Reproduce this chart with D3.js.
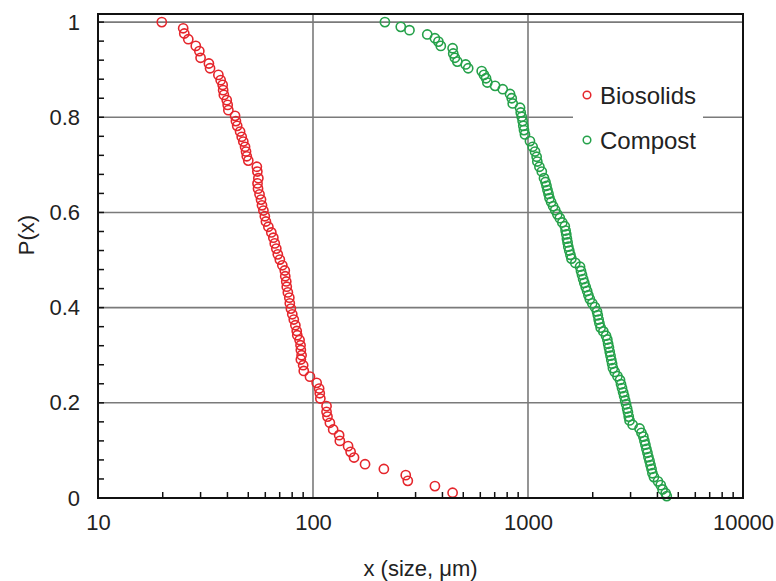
<!DOCTYPE html>
<html>
<head>
<meta charset="utf-8">
<script src="https://cdn.jsdelivr.net/npm/d3@7"></script>
<style>
	body { margin: 0; background: #fff; }
	text { font-family: "Liberation Sans", Arial, sans-serif; fill: #222; }
</style>
</head>
<body>
<div id="chart_container"></div>
<script>
// values (size in um, exceedance probability)
var biosolidsSize = [19.8, 24.9, 25.2, 26.3, 28.5, 29.6, 30.0, 32.8, 33.2, 36.3,
	37.2, 38.0, 38.2, 38.5, 39.7, 40.1, 40.4, 43.4, 43.8, 44.4,
	45.8, 46.6, 47.4, 48.3, 48.8, 49.2, 50.0, 54.8, 55.1, 55.7,
	55.2, 55.5, 56.4, 57.3, 57.9, 58.8, 59.7, 60.4, 62.0, 64.0,
	65.4, 66.4, 67.5, 68.6, 70.1, 72.0, 73.9, 74.3, 75.1, 75.5,
	76.4, 77.6, 78.0, 78.9, 80.1, 81.4, 82.8,
	84.0, 84.5, 86.6, 87.5, 87.8, 88.5, 87.8, 90.0, 90.6, 96.8,
	104, 106.8, 107.5, 108.2, 115.6, 115.6, 116.8, 119.8, 124.1, 132.3,
	133.3, 145.6, 149.6, 155.2, 174.6, 213.6, 270, 276, 369, 446];
var biosolidsP = [1.000, 0.987, 0.976, 0.964, 0.950, 0.939, 0.925, 0.913, 0.903, 0.889,
	0.878, 0.868, 0.857, 0.847, 0.836, 0.826, 0.815, 0.803, 0.792, 0.782,
	0.770, 0.759, 0.749, 0.738, 0.728, 0.718, 0.709, 0.696, 0.686, 0.672,
	0.661, 0.650, 0.638, 0.627, 0.615, 0.604, 0.592, 0.581, 0.570, 0.558,
	0.547, 0.535, 0.524, 0.512, 0.501, 0.489, 0.478, 0.466, 0.455, 0.444,
	0.432, 0.421, 0.409, 0.398, 0.386, 0.375, 0.363,
	0.351, 0.342, 0.332, 0.321, 0.311, 0.300, 0.291, 0.279, 0.267, 0.255,
	0.242, 0.230, 0.220, 0.209, 0.193, 0.181, 0.171, 0.158, 0.144, 0.132,
	0.120, 0.109, 0.097, 0.085, 0.071, 0.061, 0.048, 0.036, 0.025, 0.011];

var compostSize = [216, 256, 281, 340, 369, 383, 393, 446, 449, 457,
	469, 513, 527, 609, 624, 638, 647, 703, 763, 825,
	840, 849, 918, 925, 935, 944, 951, 958, 968, 1021,
	1051, 1078, 1097, 1105, 1130, 1159, 1187,
	1206, 1219, 1232, 1246, 1259, 1281, 1309, 1338, 1369, 1406,
	1444, 1483, 1496, 1507, 1517, 1528, 1540, 1556, 1575, 1592,
	1660, 1746, 1764, 1783, 1805, 1828, 1856, 1884, 1910, 1939,
	1990, 2048, 2094, 2112, 2131, 2149, 2177, 2241, 2306, 2339,
	2359, 2379, 2400, 2420, 2441, 2462, 2483, 2532, 2606, 2679,
	2708, 2737, 2770, 2800, 2830, 2860, 2891, 2916, 2941, 2967,
	3067, 3302, 3370, 3439, 3480, 3517, 3555, 3594, 3632, 3675,
	3715, 3755, 3791, 3853, 4021, 4144, 4225, 4367, 4419];
var compostP = [1.000, 0.990, 0.983, 0.974, 0.966, 0.959, 0.950, 0.945, 0.934, 0.925,
	0.917, 0.911, 0.903, 0.897, 0.889, 0.882, 0.873, 0.866, 0.859, 0.849,
	0.840, 0.829, 0.820, 0.810, 0.801, 0.792, 0.782, 0.773, 0.764, 0.750,
	0.738, 0.728, 0.717, 0.707, 0.696, 0.686, 0.672,
	0.664, 0.656, 0.647, 0.639, 0.630, 0.622, 0.613, 0.605, 0.596, 0.588,
	0.579, 0.571, 0.562, 0.554, 0.545, 0.537, 0.528, 0.520, 0.511, 0.503,
	0.494, 0.486, 0.477, 0.469, 0.460, 0.452, 0.443, 0.435, 0.426, 0.418,
	0.409, 0.401, 0.392, 0.384, 0.375, 0.367, 0.358, 0.350, 0.341, 0.333,
	0.324, 0.316, 0.307, 0.299, 0.290, 0.282, 0.273, 0.265, 0.256, 0.248,
	0.239, 0.231, 0.222, 0.214, 0.205, 0.197, 0.188, 0.180, 0.171, 0.163,
	0.154, 0.146, 0.137, 0.129, 0.120, 0.112, 0.103, 0.095, 0.086, 0.078,
	0.069, 0.061, 0.052, 0.044, 0.035, 0.027, 0.018, 0.010, 0.004];

var seriesNames = ["Biosolids", "Compost"];
var seriesColors = ["#e5262c", "#25a14a"];
var xTickValues = [10, 100, 1000, 10000];
var yTickValues = [0, 0.2, 0.4, 0.6, 0.8, 1];

var width = 776, height = 581;
var left = 98, right = 743, top_y = 14, bottom = 498;
var grid_color = "#7a7a7a";
var label_size = 22;

var svgContainer = d3.select("#chart_container").append("svg")
	.attr("width", width)
	.attr("height", height);

var x = d3.scaleLog().domain([10, 10000]).range([left, right]);
// frame goes a little above P=1
var y = d3.scaleLinear().domain([0, 1.017]).range([bottom, top_y]);

function drawGrid(){
	svgContainer.append("g").selectAll("line")
		.data([100, 1000])
		.enter().append("line")
		.attr("x1", function(d){ return x(d); })
		.attr("x2", function(d){ return x(d); })
		.attr("y1", top_y).attr("y2", bottom)
		.attr("stroke", grid_color).attr("stroke-width", 1.6);

	svgContainer.append("g").selectAll("line")
		.data([0.2, 0.4, 0.6, 0.8, 1])
		.enter().append("line")
		.attr("x1", left).attr("x2", right)
		.attr("y1", function(d){ return y(d); })
		.attr("y2", function(d){ return y(d); })
		.attr("stroke", grid_color).attr("stroke-width", 1.6);
}

function drawAxes(){
	// minor ticks point into the plot
	var yMinor = d3.range(0, 1.001, 0.04);
	svgContainer.append("g").selectAll("line")
		.data(yMinor)
		.enter().append("line")
		.attr("x1", left).attr("x2", left + 6)
		.attr("y1", function(d){ return y(d); })
		.attr("y2", function(d){ return y(d); })
		.attr("stroke", "#111").attr("stroke-width", 1.5);

	var xMinor = [];
	[10, 100, 1000].forEach(function(dec){
		for(var k = 2; k < 10; k++){ xMinor.push(dec*k); }
	});
	svgContainer.append("g").selectAll("line")
		.data(xMinor)
		.enter().append("line")
		.attr("x1", function(d){ return x(d); })
		.attr("x2", function(d){ return x(d); })
		.attr("y1", bottom).attr("y2", bottom - 6)
		.attr("stroke", "#111").attr("stroke-width", 1.5);

	var xAxis = d3.axisBottom(x).tickValues(xTickValues)
		.tickFormat(d3.format("d")).tickSize(0).tickPadding(16);
	var gx = svgContainer.append("g")
		.attr("transform", "translate(0," + bottom + ")")
		.call(xAxis);
	gx.select(".domain").remove();
	gx.selectAll("text").attr("font-size", label_size).attr("fill", "#222")
		.attr("font-family", "Liberation Sans, Arial, sans-serif");

	var yAxis = d3.axisLeft(y).tickValues(yTickValues)
		.tickFormat(function(d){ return d3.format("")(d); }).tickSize(0).tickPadding(18);
	var gy = svgContainer.append("g")
		.attr("transform", "translate(" + left + ",0)")
		.call(yAxis);
	gy.select(".domain").remove();
	gy.selectAll("text").attr("font-size", label_size).attr("fill", "#222")
		.attr("font-family", "Liberation Sans, Arial, sans-serif");

	// frame
	svgContainer.append("rect")
		.attr("x", left).attr("y", top_y)
		.attr("width", right - left).attr("height", bottom - top_y)
		.attr("fill", "none").attr("stroke", "#111").attr("stroke-width", 2);

	svgContainer.append("text")
		.attr("x", (left + right)/2).attr("y", 576)
		.attr("text-anchor", "middle").attr("font-size", label_size)
		.text("x (size, μm)");

	svgContainer.append("text")
		.attr("transform", "translate(34,235) rotate(-90)")
		.attr("text-anchor", "middle").attr("font-size", label_size)
		.text("P(x)");
}

function drawSeries(sizes, probs, color){
	var pts = sizes.map(function(s, i){ return {size: s, p: probs[i]}; });
	svgContainer.append("g").selectAll("circle")
		.data(pts)
		.enter().append("circle")
		.attr("cx", function(d){ return x(d.size); })
		.attr("cy", function(d){ return y(d.p); })
		.attr("r", 4.6)
		.attr("fill", "none")
		.attr("stroke", color)
		.attr("stroke-width", 1.6);
}

function drawLegend(){
	svgContainer.append("rect")
		.attr("x", 573).attr("y", 72).attr("width", 130).attr("height", 90)
		.attr("fill", "#fff");
	var items = svgContainer.append("g").selectAll("g")
		.data(seriesNames)
		.enter().append("g")
		.attr("transform", function(d, i){ return "translate(587," + (95 + i*45) + ")"; });
	items.append("circle")
		.attr("r", 3.8).attr("fill", "none")
		.attr("stroke", function(d, i){ return seriesColors[i]; })
		.attr("stroke-width", 1.5);
	items.append("text")
		.attr("x", 13).attr("dy", "0.36em")
		.attr("font-size", 24)
		.text(function(d){ return d; });
}

drawGrid();
drawLegend();
drawSeries(biosolidsSize, biosolidsP, seriesColors[0]);
drawSeries(compostSize, compostP, seriesColors[1]);
drawAxes();
</script>
</body>
</html>
